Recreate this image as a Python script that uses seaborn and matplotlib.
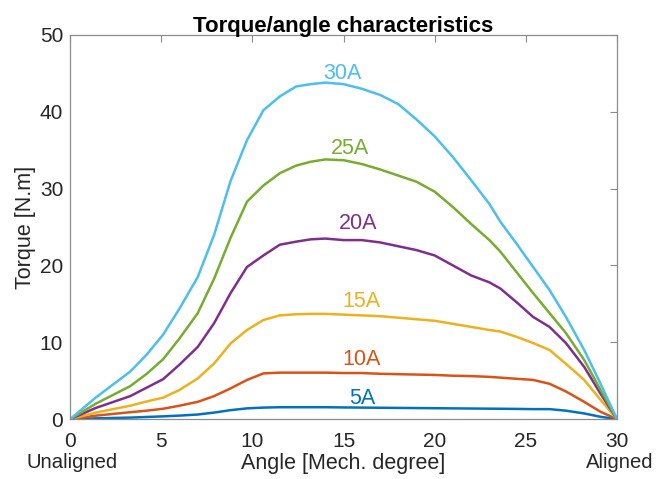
import numpy as np
import pandas as pd
import matplotlib
matplotlib.use("Agg")
import matplotlib.pyplot as plt
import seaborn as sns

angle = [0, 1.4, 3.3, 4.2, 5.1, 6.0, 7.0, 7.9, 8.8, 9.7, 10.6, 11.5, 12.4, 13.2, 14, 15,
         16, 17, 18, 19, 20, 21, 22, 23, 23.6, 24.5, 25.4, 26.3, 27.2, 28.2, 29.1, 30]

t30 = [0, 2.8, 6.2, 8.4, 11.0, 14.4, 18.5, 24.0, 31.0, 36.3, 40.2, 42.0, 43.3, 43.6, 43.8, 43.6,
       43.0, 42.2, 41.0, 39.0, 36.8, 34.1, 31.1, 28.0, 25.7, 22.8, 19.8, 16.8, 13.3, 9.0, 4.6, 0]
t25 = [0, 2.0, 4.3, 5.9, 7.8, 10.5, 13.8, 18.3, 23.6, 28.3, 30.4, 32.0, 33.0, 33.5, 33.8, 33.7,
       33.2, 32.5, 31.7, 30.9, 29.6, 27.6, 25.4, 23.3, 21.8, 19.1, 16.4, 13.8, 11.2, 7.7, 3.8, 0]
t20 = [0, 1.45, 3.0, 4.1, 5.2, 7.1, 9.4, 12.5, 16.4, 19.8, 21.3, 22.7, 23.1, 23.4, 23.5, 23.3,
       23.3, 23.0, 22.5, 22.0, 21.3, 20.0, 18.7, 17.8, 17.0, 15.2, 13.3, 12.0, 9.9, 6.8, 3.3, 0]
t15 = [0, 0.85, 1.75, 2.3, 2.8, 3.8, 5.3, 7.25, 9.85, 11.6, 12.9, 13.5, 13.65, 13.7, 13.7, 13.6,
       13.5, 13.4, 13.2, 13.0, 12.8, 12.4, 12.0, 11.6, 11.4, 10.7, 9.9, 9.0, 7.2, 5.1, 2.5, 0]
t10 = [0, 0.45, 0.9, 1.1, 1.35, 1.75, 2.25, 3.0, 4.0, 5.1, 5.95, 6.05, 6.05, 6.05, 6.05, 6.0,
       6.0, 5.9, 5.85, 5.8, 5.75, 5.65, 5.6, 5.5, 5.4, 5.25, 5.1, 4.6, 3.6, 2.25, 0.95, 0]
t5 = [0, 0.1, 0.2, 0.28, 0.36, 0.46, 0.6, 0.85, 1.17, 1.4, 1.5, 1.55, 1.55, 1.55, 1.55, 1.52,
      1.5, 1.48, 1.46, 1.44, 1.42, 1.4, 1.38, 1.36, 1.35, 1.33, 1.3, 1.3, 1.1, 0.74, 0.3, 0]

currents = ["5A", "10A", "15A", "20A", "25A", "30A"]
series = [t5, t10, t15, t20, t25, t30]
colors = ["#0072BD", "#D95319", "#EDB120", "#7E2F8E", "#77AC30", "#4DBEEE"]
label_x = [16.0, 16.0, 16.0, 15.8, 15.33, 14.96]
label_y = [2.7, 7.7, 15.3, 25.4, 35.2, 45.0]

xticks = [0, 5, 10, 15, 20, 25, 30]
yticks = [0, 10, 20, 30, 40, 50]

rows = []
for c, s in zip(currents, series):
    for a, v in zip(angle, s):
        rows.append({"Angle": a, "Torque": v, "Current": c})
df = pd.DataFrame(rows)

sns.set_theme(style="white")
plt.rcParams["font.family"] = ["Liberation Sans", "DejaVu Sans"]

fig = plt.figure(figsize=(6.62, 4.79), dpi=100)
ax = fig.add_axes([0.106, 0.125, 0.826, 0.802])

sns.lineplot(data=df, x="Angle", y="Torque", hue="Current", hue_order=currents,
             palette=dict(zip(currents, colors)), linewidth=1.8, legend=False, ax=ax,
             sort=False)

for c, col, lx, ly in zip(currents, colors, label_x, label_y):
    ax.text(lx, ly, c, color=col, fontsize=15.5, ha="center", va="center")

ax.set_xlim(0, 30)
ax.set_ylim(0, 50)
ax.set_xticks(xticks)
ax.set_yticks(yticks)
ax.tick_params(direction="in", top=True, right=True, length=5, width=0.8,
               color="#8c8c8c", labelsize=15, labelcolor="#262626")
ax.tick_params(axis="x", pad=9.5)
ax.tick_params(axis="y", pad=5)
for sp in ax.spines.values():
    sp.set_color("#8c8c8c")
    sp.set_linewidth(0.9)

ax.set_xlabel("Angle [Mech. degree]", fontsize=15.5, color="#262626", labelpad=1)
ax.set_ylabel("Torque [N.m]", fontsize=15.5, color="#262626", labelpad=3)
ax.set_title("Torque/angle characteristics", fontsize=16, fontweight="bold",
             color="black", pad=2)

trans = matplotlib.transforms.blended_transform_factory(ax.transData, ax.transAxes)
ax.text(0.1, -0.127, "Unaligned", transform=trans, ha="center", va="baseline",
        fontsize=14.6, color="#262626")
ax.text(30.15, -0.127, "Aligned", transform=trans, ha="center", va="baseline",
        fontsize=14.6, color="#262626")

fig.savefig("out.png", dpi=100)
